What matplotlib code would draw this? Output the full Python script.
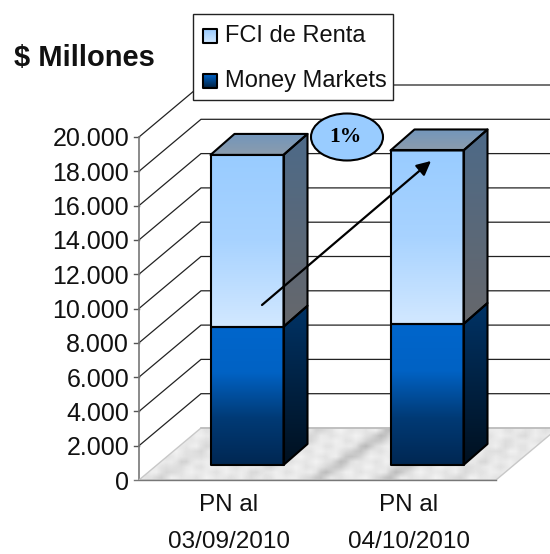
import numpy as np
import matplotlib
matplotlib.use("Agg")
import matplotlib.pyplot as plt
from matplotlib.colors import LinearSegmentedColormap
from matplotlib.patches import Polygon, Rectangle, Ellipse

categories = ["03/09/2010", "04/10/2010"]
money_markets = [8060, 8220]
fci_renta = [10020, 10120]
y_ticks = [0, 2000, 4000, 6000, 8000, 10000, 12000, 14000, 16000, 18000, 20000]
y_labels = ["0", "2.000", "4.000", "6.000", "8.000", "10.000", "12.000",
            "14.000", "16.000", "18.000", "20.000"]
pct_label = "1%"

# one unit of x = 180 px, 20000 of y = 343 px
ux = 1 / 180
uy = 20000 / 343

plt.rcParams["font.family"] = ["Liberation Sans", "DejaVu Sans"]
fig = plt.figure(figsize=(5.5, 5.54), dpi=100)
ax = fig.add_axes([0, 0, 1, 1])
xlim = (-228 * ux, (550 - 228) * ux)
ylim = (-(554 - 480) * uy, 480 * uy)


def px(x, y):
    # picture pixel to data
    return (x - 228) * ux, (480 - y) * uy


def grad_face(pts, colors, z):
    pts = np.array(pts)
    cmap = LinearSegmentedColormap.from_list("f", colors)
    g = np.linspace(0, 1, 256).reshape(-1, 1)
    im = ax.imshow(g, cmap=cmap, aspect="auto", zorder=z, interpolation="bilinear",
                   extent=(pts[:, 0].min(), pts[:, 0].max(), pts[:, 1].min(), pts[:, 1].max()))
    edge = Polygon(pts, closed=True, fc="none", ec="black", lw=1.5, zorder=z + 0.1, joinstyle="round")
    ax.add_patch(edge)
    im.set_clip_path(edge)


# floor and back wall depth
wall_dx, wall_dy = 62 * ux, 52 * uy
x0 = -0.5 + 1 * ux
x1 = 1.5 - 2 * ux

# floor, marble look from crossed sines
floor = Polygon([(x0, 0), (x1, 0), (x1 + wall_dx, wall_dy), (x0 + wall_dx, wall_dy)],
                closed=True, fc="none", ec="#c8c8c8", lw=1, zorder=1.1)
ax.add_patch(floor)
gx, gy = np.meshgrid(np.arange(84), np.arange(10))
streak = np.sin((gx + 1.6 * gy) * 0.21 + 0.6) ** 8 * (0.5 + 0.5 * np.sin(gx * 0.53 + gy * 0.8))
fine = np.sin(gx * 1.3 + gy * 2.1) * np.cos(gx * 0.47 - gy * 1.7)
tex = 233 - 45 * streak + 9 * fine
im = ax.imshow(tex, cmap="gray", vmin=0, vmax=255, aspect="auto", zorder=1, interpolation="bilinear",
               extent=(x0, x1 + wall_dx, 0, wall_dy))
im.set_clip_path(floor)

# gridlines: side wall diagonal then across back wall
for t in y_ticks:
    if t == 0:
        ax.plot([x0 + wall_dx, xlim[1]], [wall_dy, wall_dy], color="#bdbdbd", lw=1.2, zorder=1.2)
        continue
    ax.plot([x0, x0 + wall_dx, xlim[1]], [t, t + wall_dy, t + wall_dy],
            color="#222222", lw=0.9, zorder=0.5, solid_joinstyle="miter")
    ax.plot([x0 - 5 * ux, x0], [t, t], color="#555555", lw=1, zorder=0.6)
ax.plot([x0 - 5 * ux, x1], [0, 0], color="#777777", lw=1, zorder=1.3)
ax.plot([x0, x0], [0, 20000], color="#777777", lw=1.2, zorder=0.7)

for t, lab in zip(y_ticks, y_labels):
    ax.text(x0 - 10 * ux, t, lab, ha="right", va="center_baseline", fontsize=18, color="#111111")

# bars
bar_w = 73 * ux
gap_dx, gap_dy = 19 * ux, 15 * uy
dep_dx, dep_dy = 24 * ux, 21 * uy
for i in range(len(categories)):
    l = i + gap_dx - bar_w / 2
    r = l + bar_w
    b = gap_dy
    m = b + money_markets[i]
    t = m + fci_renta[i]
    z = 2 + i
    grad_face([(r, b), (r + dep_dx, b + dep_dy), (r + dep_dx, m + dep_dy), (r, m)], ["#003366", "#00101f"], z)
    grad_face([(r, m), (r + dep_dx, m + dep_dy), (r + dep_dx, t + dep_dy), (r, t)], ["#4d6a88", "#66676b"], z)
    grad_face([(l, t), (r, t), (r + dep_dx, t + dep_dy), (l + dep_dx, t + dep_dy)], ["#7296bb", "#8c9cad"], z)
    grad_face([(l, b), (r, b), (r, m), (l, m)], ["#0066cc", "#0062c4", "#003a75", "#002752"], z)
    grad_face([(l, m), (r, m), (r, t), (l, t)], ["#99ccff", "#a8d3ff", "#d2e8ff"], z)
    ax.text(i + 1 * ux, px(0, 505)[1], "PN al", ha="center", va="center", fontsize=17.5, color="#111111")
    ax.text(i + 1 * ux, px(0, 542)[1], categories[i], ha="center", va="center", fontsize=17.5, color="#111111")

# growth arrow and bubble
ax.annotate("", xy=px(431, 161), xytext=px(262, 305), zorder=6,
            arrowprops=dict(arrowstyle="-|>,head_length=0.85,head_width=0.42", color="black", lw=1.6,
                            shrinkA=0, shrinkB=0))
ec, ey = px(347, 137)
ax.add_patch(Ellipse((ec, ey), 72 * ux, 47 * uy, fc="#99ccff", ec="black", lw=1.5, zorder=7))
ax.text(ec - 2 * ux, ey, pct_label, ha="center", va="center", fontsize=15.5, fontweight="bold",
        family="Liberation Serif", zorder=8)

# legend
lx, ly = px(192.5, 100)
ax.add_patch(Rectangle((lx, ly), 200 * ux, 86 * uy, fc="white", ec="#222222", lw=1, zorder=9))
for label, colors, yp in [("FCI de Renta", ["#99ccff", "#d2e8ff"], 36),
                          ("Money Markets", ["#0066cc", "#002040"], 81)]:
    sl, st = px(203, yp - 7)
    sr, sb = px(217, yp + 7)
    grad_face([(sl, sb), (sr, sb), (sr, st), (sl, st)], colors, 10)
    ax.text(px(225, 0)[0], px(0, yp)[1], label, va="center", ha="left", fontsize=17, color="#111111", zorder=11)

ax.text(*px(14, 58), "$ Millones", fontsize=21, fontweight="bold", va="center", ha="left", color="#111111")

ax.set_xlim(*xlim)
ax.set_ylim(*ylim)
ax.axis("off")
fig.savefig("out.png", dpi=100)
